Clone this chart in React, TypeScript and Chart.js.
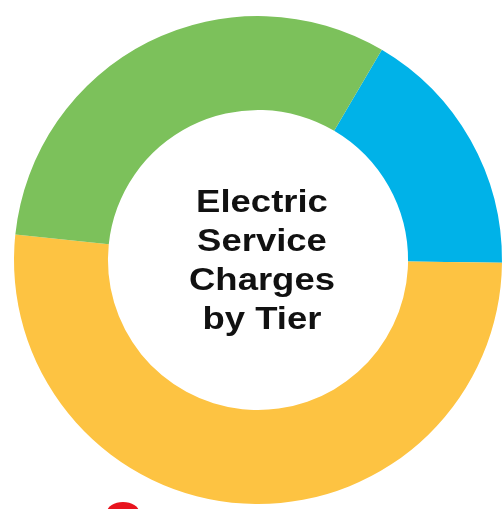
import React, { useEffect, useRef } from "react";
import { Chart, registerables } from "chart.js";

Chart.register(...registerables);

const categories = ["Tier 1", "Tier 2", "Tier 3"];
const values = [16.7, 51.5, 31.8];
const colors = ["#00B2E8", "#FDC342", "#7CC15B"];
const titleLines = ["Electric", "Service", "Charges", "by Tier"];

export default function App() {
  const ref = useRef<HTMLCanvasElement | null>(null);

  useEffect(() => {
    if (!ref.current) return;
    const chart = new Chart(ref.current, {
      type: "doughnut",
      data: {
        labels: categories,
        datasets: [
          {
            data: values,
            backgroundColor: colors,
            borderWidth: 0,
            hoverOffset: 0,
          },
        ],
      },
      options: {
        responsive: false,
        maintainAspectRatio: false,
        animation: false,
        rotation: 30.5,
        cutout: "61.5%",
        layout: { padding: { left: 14, right: 1, top: 16, bottom: 5 } },
        plugins: {
          legend: { display: false },
          tooltip: { enabled: false },
        },
      },
    });
    return () => chart.destroy();
  }, []);

  return (
    <div
      style={{
        position: "fixed",
        left: 0,
        top: 0,
        width: 503,
        height: 509,
        overflow: "hidden",
        background: "#fff",
      }}
    >
      <canvas ref={ref} width={503} height={509} style={{ display: "block" }} />
      <div
        style={{
          position: "absolute",
          left: 162,
          top: 182,
          width: 200,
          textAlign: "center",
          fontFamily: "'Liberation Sans', Arial, sans-serif",
          fontWeight: "bold",
          fontSize: 32,
          lineHeight: "39px",
          color: "#111",
          transform: "scaleX(1.14)",
          transformOrigin: "center",
        }}
      >
        {titleLines.map((t) => (
          <div key={t}>{t}</div>
        ))}
      </div>
      <div
        style={{
          position: "absolute",
          left: 107,
          top: 502,
          width: 32,
          height: 20,
          borderRadius: "50%",
          background: "#E8141E",
        }}
      />
    </div>
  );
}
